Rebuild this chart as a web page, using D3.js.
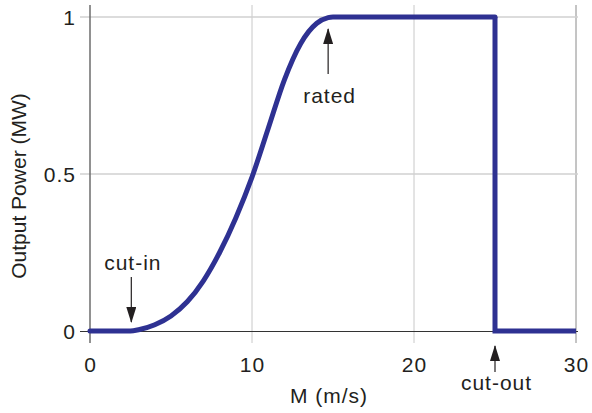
<!DOCTYPE html>
<html>
<head>
<meta charset="utf-8">
<script src="https://cdn.jsdelivr.net/npm/d3@7/dist/d3.min.js"></script>
<style>
  html, body { margin: 0; padding: 0; background: #fff; }
  text { font-family: "Liberation Sans", Arial, Helvetica, sans-serif; fill: #231f20; }
  text.h { letter-spacing: 1px; }
</style>
</head>
<body>
<svg id="chart" width="592" height="413"></svg>
<script>
// ---- data ----
const windSpeed = [0, 2.5, 3, 4, 5, 6, 7, 8, 9, 10, 11, 12, 13, 14, 14.7, 15, 25];
const power     = [0, 0, 0.004, 0.02, 0.048, 0.093, 0.16, 0.25, 0.36, 0.49, 0.645, 0.80, 0.915, 0.98, 0.998, 1, 1];
const cutOutSpeed = [25, 25, 30];
const cutOutPower = [1, 0, 0];
const xTicks = [0, 10, 20, 30];
const yTicks = [0, 0.5, 1];
const yTickLabels = ["0", "0.5", "1"];
const annotations = [
  { label: "cut-in", speed: 2.55 },
  { label: "rated", speed: 14.7 },
  { label: "cut-out", speed: 25 }
];
const xTitle = "M (m/s)";
const yTitle = "Output Power (MW)";

// ---- layout ----
const svg = d3.select("#chart");
const x = d3.scaleLinear().domain([0, 30]).range([90, 576]);
const y = d3.scaleLinear().domain([0, 1]).range([331, 17]);
const gridTop = 5, gridBottom = 343;
const lineColor = "#2e3192";
const fs = 21;

const defs = svg.append("defs");
defs.append("marker").attr("id", "arrowHead")
  .attr("viewBox", "0 0 16 10").attr("refX", 15).attr("refY", 5)
  .attr("markerWidth", 16).attr("markerHeight", 10)
  .attr("markerUnits", "userSpaceOnUse").attr("orient", "auto")
  .append("path").attr("d", "M0,0 L16,5 L0,10 Z").attr("fill", "#231f20");

// vertical gridlines
svg.append("g").selectAll("line").data(xTicks.filter(d => d > 0)).join("line")
  .attr("x1", d => x(d)).attr("x2", d => x(d))
  .attr("y1", gridTop).attr("y2", gridBottom)
  .attr("stroke", d => d === 30 ? "#8a8a8a" : "#c8c8c8").attr("stroke-width", 1);

// horizontal gridlines
svg.append("g").selectAll("line").data(yTicks.filter(d => d > 0)).join("line")
  .attr("x1", 80).attr("x2", 578)
  .attr("y1", d => y(d)).attr("y2", d => y(d))
  .attr("stroke", "#d0d0d0").attr("stroke-width", 1.5);

// x axis line
svg.append("line").attr("x1", 80).attr("x2", 578)
  .attr("y1", y(0) + 0.5).attr("y2", y(0) + 0.5)
  .attr("stroke", "#333").attr("stroke-width", 1);

// y axis line
svg.append("line").attr("x1", x(0)).attr("x2", x(0))
  .attr("y1", gridTop).attr("y2", gridBottom)
  .attr("stroke", "#6d6d6d").attr("stroke-width", 1.5);

// tick labels
svg.append("g").selectAll("text").data(xTicks).join("text")
  .attr("class", "h")
  .attr("x", d => x(d) + 0.5).attr("y", 372)
  .attr("text-anchor", "middle").attr("font-size", fs)
  .text(d => d);
svg.append("g").selectAll("text").data(yTicks).join("text")
  .attr("class", "h")
  .attr("x", 76).attr("y", d => y(d) + 7.5)
  .attr("text-anchor", "end").attr("font-size", fs)
  .text((d, i) => yTickLabels[i]);

// axis titles
svg.append("text").attr("class", "h").attr("x", 329).attr("y", 403)
  .attr("text-anchor", "middle").attr("font-size", fs).text(xTitle);
svg.append("text").attr("transform", "translate(26," + 186 + ") rotate(-90)")
  .attr("text-anchor", "middle").attr("font-size", fs).text(yTitle);

// power curve
const pts = windSpeed.map((s, i) => [s, power[i]]);
const line = d3.line().x(d => x(d[0])).y(d => y(d[1]));
svg.append("path").attr("d", line.curve(d3.curveMonotoneX)(pts))
  .attr("fill", "none").attr("stroke", lineColor).attr("stroke-width", 5)
  .attr("stroke-linecap", "round").attr("stroke-linejoin", "round");
const cutPts = cutOutSpeed.map((s, i) => [s, cutOutPower[i]]);
svg.append("path").attr("d", d3.line().x(d => x(d[0])).y(d => y(d[1])).curve(d3.curveLinear)(cutPts))
  .attr("fill", "none").attr("stroke", lineColor).attr("stroke-width", 5)
  .attr("stroke-linecap", "butt").attr("stroke-linejoin", "miter");

// annotations
annotations.forEach(a => {
  const ax = x(a.speed);
  let y1, y2, ty;
  if (a.label === "cut-in") { y1 = 277; y2 = 322; ty = 270; }
  else if (a.label === "rated") { y1 = 74; y2 = 29; ty = 103; }
  else { y1 = 372; y2 = 346; ty = 390; }
  svg.append("line").attr("x1", ax).attr("x2", ax).attr("y1", y1).attr("y2", y2)
    .attr("stroke", "#231f20").attr("stroke-width", 1.2)
    .attr("marker-end", "url(#arrowHead)");
  svg.append("text").attr("class", "h").attr("x", ax + 1.5).attr("y", ty)
    .attr("text-anchor", "middle").attr("font-size", fs).text(a.label);
});
</script>
</body>
</html>
